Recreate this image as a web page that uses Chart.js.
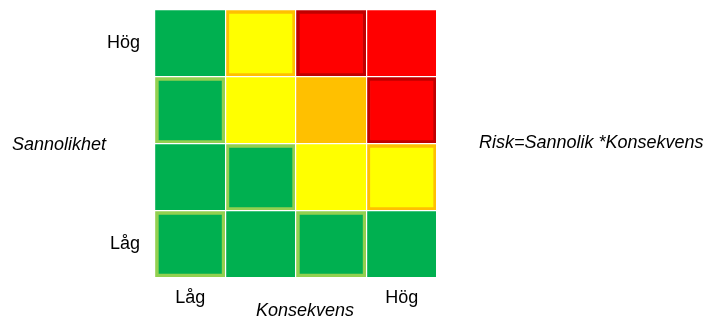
<!DOCTYPE html>
<html lang="sv">
<head>
  <meta charset="UTF-8">
  <title>Riskmatris</title>
  <script src="https://cdn.jsdelivr.net/npm/chart.js@4.4.0/dist/chart.umd.min.js"></script>
  <style>
    body {
      margin: 0;
      background: #ffffff;
      font-family: "Liberation Sans", Arial, sans-serif;
    }
    .wrap {
      position: relative;
      width: 714px;
      height: 319px;
    }
    .label {
      position: absolute;
      font-size: 18px;
      font-style: italic;
      color: #000000;
      white-space: nowrap;
    }
  </style>
</head>
<body>
  <div class="wrap">
    <canvas id="matris"></canvas>
    <div class="label" style="left:12px; top:134px;">Sannolikhet</div>
    <div class="label" style="left:479px; top:132px;">Risk=Sannolik *Konsekvens</div>
    <div class="label" id="konsekvens" style="top:300px;">Konsekvens</div>
  </div>

  <script>
    // Konsekvens (kolumner, vänster -> höger)
    const kolumner = ['Låg', '', '', 'Hög'];
    // Sannolikhet (rader, uppifrån och ner)
    const rader = ['Hög', '', '', 'Låg'];

    // risknivå per cell: 1 = grön, 2 = gul, 3 = orange, 4 = röd
    // rader nerifrån och upp (staplingsordning)
    const nivaRad1 = [1, 1, 1, 1];
    const nivaRad2 = [1, 1, 2, 2];
    const nivaRad3 = [1, 2, 3, 4];
    const nivaRad4 = [1, 2, 4, 4];

    // markerade celler (ram runt rutan)
    const ramRad1 = [1, 0, 1, 0];
    const ramRad2 = [0, 1, 0, 1];
    const ramRad3 = [1, 0, 0, 1];
    const ramRad4 = [0, 1, 1, 0];

    // varje ruta har höjden 1
    const cellVarde = [1, 1, 1, 1];

    const fyllning = { 1: '#00B050', 2: '#FFFF00', 3: '#FFC000', 4: '#FF0000' };
    const ramfarg = { 1: '#92D050', 2: '#FFC000', 3: '#FFC000', 4: '#C00000' };

    function rad(niva, ram) {
      return {
        data: cellVarde,
        backgroundColor: niva.map(n => fyllning[n]),
        borderColor: niva.map(n => ramfarg[n]),
        borderWidth: ram.map(r => r ? 4 : 0),
        borderSkipped: false,
        categoryPercentage: 1,
        barPercentage: 1,
        yAxisID: 'y'
      };
    }

    // centrera "Konsekvens" lite till höger om rutnätets mitt
    const kons = document.getElementById('konsekvens');
    kons.style.left = (305 - 49) + 'px';

    const nollaPadding = scale => {
      scale.paddingTop = 0;
      scale.paddingBottom = 0;
    };

    const ctx = document.getElementById('matris').getContext('2d');
    new Chart(ctx, {
      type: 'bar',
      data: {
        labels: kolumner,
        datasets: [
          rad(nivaRad1, ramRad1),
          rad(nivaRad2, ramRad2),
          rad(nivaRad3, ramRad3),
          rad(nivaRad4, ramRad4)
        ]
      },
      options: {
        responsive: true,
        maintainAspectRatio: false,
        animation: false,
        layout: {
          padding: { top: 10, right: 277, bottom: 0, left: 0 }
        },
        plugins: {
          legend: { display: false },
          tooltip: { enabled: false }
        },
        scales: {
          x: {
            stacked: true,
            grid: { color: '#ffffff', lineWidth: 1.2, offset: true, drawTicks: false, z: 1 },
            border: { display: false },
            ticks: {
              color: '#000000',
              padding: 9,
              maxRotation: 0,
              autoSkip: false,
              font: { family: '"Liberation Sans", Arial, sans-serif', size: 18 }
            },
            afterFit: scale => {
              scale.height = 41;
              scale.paddingLeft = 0;
              scale.paddingRight = 0;
            }
          },
          y: {
            stacked: true,
            min: 0,
            max: 4,
            position: 'left',
            ticks: { display: false, stepSize: 1 },
            grid: { color: '#ffffff', lineWidth: 1.2, drawTicks: false, z: 1 },
            border: { display: false },
            afterFit: scale => {
              scale.width = 0;
              nollaPadding(scale);
            }
          },
          yl: {
            type: 'category',
            labels: rader,
            position: 'left',
            offset: true,
            grid: { display: false },
            border: { display: false },
            ticks: {
              color: '#000000',
              padding: 7,
              autoSkip: false,
              font: { family: '"Liberation Sans", Arial, sans-serif', size: 18 }
            },
            afterFit: scale => {
              scale.width = 155;
              nollaPadding(scale);
            }
          }
        }
      }
    });
  </script>
</body>
</html>
